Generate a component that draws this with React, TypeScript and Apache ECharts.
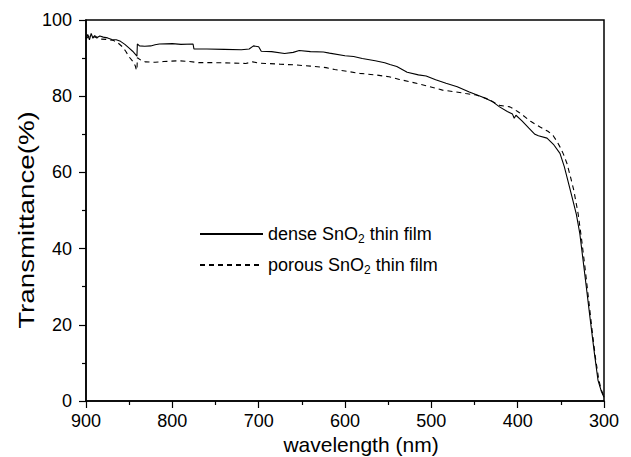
import React, { useEffect, useRef } from "react";
import * as echarts from "echarts";

const denseWl = [900, 898, 896, 894, 892, 890, 887, 884, 880, 875, 870, 865, 860, 855, 850, 846, 842, 841, 840.5, 838, 832, 825, 820, 815, 800, 790, 776, 775, 760, 740, 720, 711, 706, 700, 697, 685, 670, 660, 653, 640, 625, 618, 600, 590, 580, 565, 554, 548, 540, 528, 515, 506, 495, 483, 470, 456, 441, 430, 421, 412, 406, 404, 402, 395, 387, 380, 376, 366, 358, 351, 346, 342, 337, 332, 328, 324, 320, 316, 311, 307, 303, 300];
const denseT = [95.3, 96.2, 94.8, 96.5, 95.2, 95.9, 95.4, 95.8, 95.5, 95.3, 94.9, 94.8, 94.4, 93.6, 92.6, 91.8, 90.8, 90.5, 93.7, 93.2, 93.1, 93.2, 93.5, 93.7, 93.8, 93.6, 93.7, 92.4, 92.4, 92.3, 92.2, 92.4, 93.2, 93.0, 91.8, 91.7, 91.2, 91.5, 92.0, 91.7, 91.6, 91.3, 90.6, 90.4, 89.9, 89.3, 88.8, 88.3, 87.8, 86.3, 85.6, 85.3, 84.3, 83.4, 82.5, 81.1, 79.8, 78.7, 77.2, 76.0, 75.3, 74.2, 75.0, 73.5, 71.6, 70.0, 69.6, 69.0, 67.2, 65.0, 61.5, 58.0, 53.5, 49.0, 43.9, 36.5, 29.0, 21.5, 12.3, 5.5, 2.5, 1.0];

const porousWl = [900, 897, 894, 890, 885, 875, 868, 864, 858, 854, 850, 846, 843, 842, 841, 840.5, 836, 831, 820, 810, 792, 780, 769, 750, 730, 715, 707, 700, 692, 675, 657, 640, 622, 612, 600, 583, 565, 549, 537, 525, 512, 502, 487, 471, 460, 448, 435, 421, 409, 400, 394, 385, 374, 365, 359, 355, 351, 347, 343, 339, 335, 330, 326, 322, 318, 314, 310, 306, 303, 300];
const porousT = [95.0, 95.8, 95.3, 95.6, 95.0, 94.9, 94.6, 94.2, 93.0, 91.8, 90.3, 89.2, 88.0, 87.2, 86.8, 90.1, 89.4, 89.0, 88.9, 89.1, 89.3, 89.1, 88.8, 88.8, 88.7, 88.6, 89.0, 88.7, 88.6, 88.4, 88.2, 87.9, 87.5, 87.0, 86.6, 86.0, 85.6, 85.1, 84.4, 83.8, 83.1, 82.5, 81.6, 81.1, 80.7, 80.3, 79.3, 77.6, 77.2, 76.0, 75.0, 73.4, 71.9, 70.8, 69.7, 68.3, 66.7, 64.8, 62.4, 59.0, 55.3, 49.2, 42.5, 35.0, 27.0, 19.0, 11.5, 5.5, 2.8, 1.2];

const seriesNames = ["dense SnO2 thin film", "porous SnO2 thin film"];
const xAxisTitle = "wavelength (nm)";
const yAxisTitle = "Transmittance(%)";

const FONT = "'Liberation Sans', Arial, sans-serif";

export default function App() {
  const ref = useRef<HTMLDivElement>(null);
  useEffect(() => {
    if (!ref.current) return;
    const chart = echarts.init(ref.current, undefined, { renderer: "svg" });
    const axisCommon = {
      axisLine: { show: true, lineStyle: { color: "#000", width: 1.5 } },
      axisTick: { show: true, inside: false, length: 7, lineStyle: { color: "#000", width: 1.2 } },
      minorTick: { show: true, splitNumber: 2, length: 4, lineStyle: { color: "#000", width: 1.2 } },
      splitLine: { show: false },
      axisLabel: { color: "#000", fontSize: 18, fontFamily: FONT },
    };
    chart.setOption({
      animation: false,
      backgroundColor: "#fff",
      grid: {
        left: 86, right: 27, top: 20, bottom: 56,
        show: true, borderColor: "#000", borderWidth: 1.5, backgroundColor: "transparent",
      },
      legend: {
        left: 194, top: 220, orient: "vertical",
        itemWidth: 63, itemHeight: 14, itemGap: 11,
        data: seriesNames,
        itemStyle: { opacity: 0 },
        formatter: (n: string) => n.replace("SnO2", "SnO{sub|2}"),
        textStyle: {
          color: "#000", fontSize: 18, fontFamily: FONT,
          rich: { sub: { fontSize: 12, fontFamily: FONT, color: "#000", padding: [10, 0, 0, 0] } },
        },
      },
      graphic: [
        {
          type: "text", x: 361, y: 444,
          style: { text: xAxisTitle, font: `21px ${FONT}`, fill: "#000", align: "center", verticalAlign: "middle" },
        },
        {
          type: "text", x: 26, y: 220, rotation: Math.PI / 2, scaleX: 1.26,
          style: { text: yAxisTitle, font: `22px ${FONT}`, fill: "#000", align: "center", verticalAlign: "middle" },
        },
      ],
      xAxis: {
        ...axisCommon,
        type: "value", inverse: true, min: 300, max: 900, interval: 100,
        axisLabel: { ...axisCommon.axisLabel, margin: 11 },
      },
      yAxis: {
        ...axisCommon,
        type: "value", min: 0, max: 100, interval: 20,
        axisLabel: { ...axisCommon.axisLabel, margin: 14 },
      },
      series: [
        {
          name: seriesNames[0], type: "line", showSymbol: false, symbol: "none",
          data: denseWl.map((w, i) => [w, denseT[i]]),
          lineStyle: { color: "#000", width: 1.1 }, itemStyle: { color: "#000" },
        },
        {
          name: seriesNames[1], type: "line", showSymbol: false, symbol: "none",
          data: porousWl.map((w, i) => [w, porousT[i]]),
          lineStyle: { color: "#000", width: 1.1, type: [5, 4] }, itemStyle: { color: "#000" },
        },
      ],
    });
    return () => chart.dispose();
  }, []);
  return <div ref={ref} style={{ width: 631, height: 457, position: "absolute", left: 0, top: 0 }} />;
}
